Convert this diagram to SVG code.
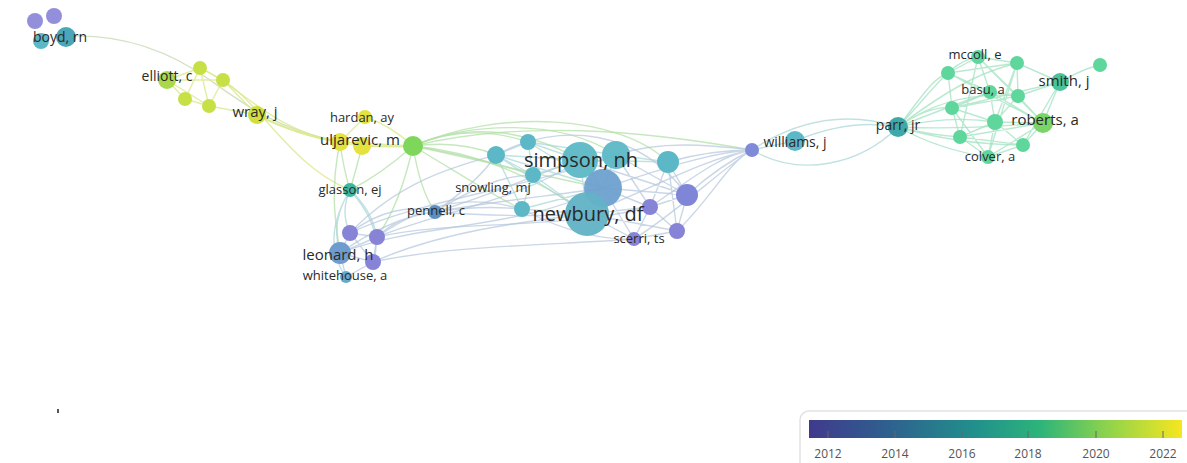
<svg xmlns="http://www.w3.org/2000/svg" width="1187" height="463" viewBox="0 0 1187 463">
<defs>
<style>
.e{fill:none;stroke-width:1.4;stroke-linecap:round}
.ey{stroke:#dbe88e;opacity:.8}
.eg{stroke:#b3e0a8;opacity:.75}
.eb{stroke:#b4c6dc;opacity:.7}
.et{stroke:#a6d4d6;opacity:.7}
.er{stroke:#a3e2c2;opacity:.75}
.n{stroke:none}
.pu{fill:#8783d6}
.bl{fill:#6e9ccf}
.te{fill:#5cb8c6}
.tg{fill:#3fb79e}
.gr{fill:#7ed65a}
.yg{fill:#c6e046}
.ye{fill:#e4e23e}
.rg{fill:#5ed69c}
text{font-family:"Open Sans","Liberation Sans",sans-serif;fill:#2a2a2a;text-anchor:middle}
.s13{font-size:13px}
.s14{font-size:14px}
.s15{font-size:15px}
.s20{font-size:20px}
.tick{font-size:12px;fill:#555}
</style>
<linearGradient id="vir" x1="0" y1="0" x2="1" y2="0">
<stop offset="0" stop-color="#403a8c"/>
<stop offset="0.2" stop-color="#2f5e8e"/>
<stop offset="0.45" stop-color="#21918c"/>
<stop offset="0.62" stop-color="#2db47a"/>
<stop offset="0.8" stop-color="#8ed34c"/>
<stop offset="1" stop-color="#f6e620"/>
</linearGradient>
</defs>
<rect width="1187" height="463" fill="#fff"/>
<g id="connectors">
<path class="e" stroke="#d3e2c4" d="M70 36 C130 34 175 55 210 80 S275 128 340 142"/>
<path class="e ey" d="M200 68 C240 85 270 130 340 142"/>
<path class="e ey" d="M223 80 C262 105 290 165 350 190"/>
<path class="e ey" d="M167 80 L200 68 M167 80 L223 80 M167 80 L185 99 M167 80 L209 106 M200 68 L223 80 M200 68 L185 99 M223 80 L209 106 M185 99 L209 106 M223 80 L257 115 M209 106 L257 115 M200 68 L209 106"/>
<path class="e ey" style="stroke-width:2.2" d="M257 115 Q300 136 340 142"/>
<path class="e ey" d="M257 115 Q330 152 413 146"/>
<path class="e ey" d="M340 142 L413 146 M362 146 L413 146 M365 117 Q390 125 413 146 M365 117 L340 142"/>
<path class="e eg" d="M413 146 C460 125 520 125 580 160"/>
<path class="e eg" d="M413 146 C470 122 560 118 616 155"/>
<path class="e eg" d="M413 146 Q460 140 496 155"/>
<path class="e eg" d="M413 146 Q470 122 528 142"/>
<path class="e eg" d="M413 146 C480 152 540 180 587 214"/>
<path class="e eg" d="M413 146 C470 180 500 200 522 209"/>
<path class="e eg" d="M413 146 Q470 155 533 175"/>
<path class="e eg" d="M413 146 C500 108 620 115 668 162"/>
<path class="e eg" d="M413 146 C520 120 640 130 752 150"/>
<path class="e eg" d="M413 146 C480 160 560 180 603 188"/>
<path class="e eg" d="M413 146 Q380 175 350 190"/>
<path class="e eg" d="M413 146 Q420 190 435 212"/>
<path class="e eg" d="M413 146 Q400 205 377 237"/>
<path class="e eg" d="M340 142 Q343 167 350 190 M362 146 Q356 170 350 190"/>
<path class="e eg" d="M340 142 C330 190 335 220 340 253"/>
<path class="e et" d="M350 190 Q340 212 350 233 M350 190 Q330 222 340 253 M350 190 Q372 210 377 237 M350 190 Q385 230 373 262 M350 190 Q320 240 346 277"/>
<path class="e eb" d="M350 233 L377 237 M350 233 L340 253 M377 237 L373 262 M340 253 L373 262 M340 253 L346 277 M350 233 L373 262 M377 237 L340 253 M373 262 L346 277"/>
<path class="e eb" d="M377 237 Q400 215 435 212 M350 233 C380 210 410 205 435 212 M340 253 C380 225 410 215 435 212"/>
<path class="e eb" d="M377 237 C430 200 470 195 522 209"/>
<path class="e eb" d="M350 233 C400 180 460 165 496 155"/>
<path class="e eb" d="M373 262 C440 232 520 222 587 214"/>
<path class="e eb" d="M377 237 C440 212 520 200 580 160"/>
<path class="e eb" d="M340 253 C420 222 520 230 603 188"/>
<path class="e eb" d="M373 262 C450 245 560 245 634 239"/>
<path class="e eb" d="M350 233 C420 200 520 190 616 155"/>
<path class="e eb" d="M377 237 C450 220 560 230 650 207"/>
<path class="e eb" d="M435 212 Q480 205 522 209 M435 212 Q480 180 496 155 M435 212 Q520 218 587 214 M435 212 C500 192 540 172 580 160 M435 212 C500 200 560 195 603 188 M435 212 C470 190 500 175 533 175"/>
<path class="e et" d="M496 155 L528 142 M496 155 L533 175 M496 155 L522 209 M528 142 L533 175 M533 175 L522 209 M528 142 L580 160 M496 155 L580 160 M533 175 L580 160 M522 209 L587 214 M533 175 L587 214 M528 142 L616 155 M580 160 L616 155 M580 160 L603 188 M616 155 L603 188 M603 188 L587 214 M580 160 L587 214 M616 155 L668 162 M580 160 L668 162 M496 155 L603 188 M522 209 L603 188 M528 142 L603 188 M496 155 L587 214"/>
<path class="e eb" d="M603 188 L687 195 M587 214 L650 207 M603 188 L650 207 M587 214 L634 239 M603 188 L634 239 M650 207 L677 231 M687 195 L677 231 M650 207 L634 239 M634 239 L677 231 M668 162 L687 195 M616 155 L687 195 M668 162 L650 207 M587 214 L677 231 M616 155 L650 207 M580 160 L687 195 M668 162 L677 231 M687 195 L650 207"/>
<path class="e eb" d="M522 209 C570 235 610 240 634 239 M496 155 C560 120 640 130 687 195"/>
<path class="e eb" d="M668 162 Q710 150 752 150 M687 195 Q720 165 752 150 M677 231 C710 200 730 160 752 150 M650 207 C690 180 720 155 752 150 M616 155 C660 140 710 145 752 150 M587 214 C650 190 700 160 752 150 M603 188 C660 170 710 152 752 150 M634 239 C680 210 720 170 752 150"/>
<path class="e et" d="M752 150 L795 141"/>
<path class="e et" d="M752 150 C800 118 850 112 898 127"/>
<path class="e et" d="M752 150 C800 178 860 165 898 127"/>
<path class="e et" d="M795 141 Q850 118 898 127"/>
<path class="e er" d="M898 127 C920 100 930 80 948 73 M898 127 C930 95 950 60 978 57 M898 127 Q930 105 952 108 M898 127 Q940 110 990 92 M898 127 Q950 115 995 122 M898 127 Q930 135 960 137 M898 127 Q940 150 988 157 M898 127 Q960 130 1043 123 M898 127 Q960 145 1023 145 M898 127 Q950 90 1018 96 M898 127 C960 80 990 70 1017 63"/>
<path class="e er" d="M978 57 L1017 63 M948 73 L978 57 M948 73 L990 92 M978 57 L990 92 M1017 63 L1018 96 M1017 63 L1060 82 M1060 82 L1018 96 M990 92 L1018 96 M948 73 L952 108 M952 108 L990 92 M952 108 L995 122 M990 92 L995 122 M1018 96 L1043 123 M995 122 L1043 123 M952 108 L960 137 M960 137 L995 122 M995 122 L988 157 M960 137 L988 157 M988 157 L1023 145 M1023 145 L1043 123 M995 122 L1023 145 M1060 82 L1043 123 M1018 96 L995 122 M978 57 L1018 96 M948 73 L1017 63 M952 108 L1018 96 M960 137 L1023 145 M952 108 L988 157 M990 92 L1043 123 M1060 82 L1023 145 M978 57 L1043 123 M948 73 L1043 123 M960 137 L1043 123 M952 108 L1060 82 M988 157 L1043 123 M1017 63 L995 122 M978 57 L960 137 M1017 63 L988 157"/>
<path class="e er" d="M1060 82 Q1085 68 1100 65"/>
</g>
<g id="node-boyd-cluster">
<circle class="n pu" cx="35" cy="21" r="8" opacity=".9"/>
<circle class="n pu" cx="54" cy="16" r="8" opacity=".9"/>
<circle class="n te" cx="41" cy="41" r="8"/>
<circle class="n" cx="66" cy="37" r="10" fill="#4aa7b8"/>
</g>
<g id="node-elliott-cluster">
<circle class="n" cx="167" cy="80" r="9" fill="#a9d84a"/>
<circle class="n yg" cx="200" cy="68" r="7"/>
<circle class="n yg" cx="223" cy="80" r="7"/>
<circle class="n yg" cx="185" cy="99" r="7"/>
<circle class="n yg" cx="209" cy="106" r="7"/>
<circle class="n" cx="257" cy="115" r="9" fill="#cfe03a"/>
</g>
<g id="node-uljarevic-cluster">
<circle class="n ye" cx="365" cy="117" r="7"/>
<circle class="n ye" cx="340" cy="142" r="9"/>
<circle class="n ye" cx="362" cy="146" r="9"/>
<circle class="n gr" cx="413" cy="146" r="10"/>
</g>
<g id="node-glasson"><circle class="n tg" cx="350" cy="190" r="7"/></g>
<g id="node-pennell"><circle class="n" cx="435" cy="212" r="7" fill="#5a8fc0"/></g>
<g id="node-leonard-cluster">
<circle class="n pu" cx="350" cy="233" r="8"/>
<circle class="n pu" cx="377" cy="237" r="8"/>
<circle class="n bl" cx="340" cy="253" r="11"/>
<circle class="n pu" cx="373" cy="262" r="8"/>
<circle class="n" cx="346" cy="277" r="6" fill="#67a9cc"/>
</g>
<g id="node-central-cluster">
<circle class="n te" cx="496" cy="155" r="9"/>
<circle class="n te" cx="528" cy="142" r="8"/>
<circle class="n te" cx="533" cy="175" r="8"/>
<circle class="n te" cx="522" cy="209" r="8"/>
<circle class="n te" cx="580" cy="160" r="18" opacity=".95"/>
<circle class="n te" cx="616" cy="155" r="14" opacity=".95"/>
<circle class="n" cx="603" cy="188" r="19" fill="#6ea0cf" opacity=".95"/>
<circle class="n" cx="587" cy="214" r="22" fill="#62b2c6" opacity=".95"/>
<circle class="n te" cx="668" cy="162" r="11"/>
<circle class="n" cx="687" cy="195" r="11" fill="#7f86d8"/>
<circle class="n pu" cx="650" cy="207" r="8"/>
<circle class="n pu" cx="677" cy="231" r="8"/>
<circle class="n pu" cx="634" cy="239" r="7"/>
</g>
<g id="node-williams">
<circle class="n" cx="752" cy="150" r="7" fill="#7f8ad8"/>
<circle class="n te" cx="795" cy="141" r="10"/>
</g>
<g id="node-parr"><circle class="n" cx="898" cy="127" r="10" fill="#3fa8a8"/></g>
<g id="node-right-cluster">
<circle class="n rg" cx="978" cy="57" r="7"/>
<circle class="n rg" cx="1017" cy="63" r="7"/>
<circle class="n rg" cx="948" cy="73" r="7"/>
<circle class="n rg" cx="1100" cy="65" r="7"/>
<circle class="n" cx="1060" cy="82" r="9" fill="#49c39a"/>
<circle class="n rg" cx="990" cy="92" r="7"/>
<circle class="n rg" cx="1018" cy="96" r="7"/>
<circle class="n rg" cx="952" cy="108" r="7"/>
<circle class="n rg" cx="995" cy="122" r="8"/>
<circle class="n" cx="1043" cy="123" r="10" fill="#7ad468"/>
<circle class="n rg" cx="960" cy="137" r="7"/>
<circle class="n rg" cx="1023" cy="145" r="7"/>
<circle class="n rg" cx="988" cy="157" r="7"/>
</g>
<g id="labels">
<text class="s14" x="60" y="42">boyd, rn</text>
<text class="s14" x="167" y="81">elliott, c</text>
<text class="s15" x="255" y="117">wray, j</text>
<text class="s13" x="362" y="122">hardan, ay</text>
<text class="s15" x="360" y="145">uljarevic, m</text>
<text class="s13" x="350" y="194">glasson, ej</text>
<text class="s13" x="436" y="215">pennell, c</text>
<text class="s13" x="493" y="192">snowling, mj</text>
<text class="s15" x="338" y="260">leonard, h</text>
<text class="s13" x="345" y="280">whitehouse, a</text>
<text class="s20" x="581" y="167">simpson, nh</text>
<text class="s20" x="588" y="221">newbury, df</text>
<text class="s13" x="639" y="243">scerri, ts</text>
<text class="s14" x="795" y="147">williams, j</text>
<text class="s14" x="898" y="130">parr, jr</text>
<text class="s13" x="975" y="59">mccoll, e</text>
<text class="s15" x="1064" y="86">smith, j</text>
<text class="s13" x="983" y="94">basu, a</text>
<text class="s15" x="1045" y="125">roberts, a</text>
<text class="s13" x="990" y="161">colver, a</text>
</g>
<rect x="57" y="409" width="2" height="4" fill="#555"/>
<g id="legend">
<rect x="800" y="411" width="400" height="60" rx="9" fill="#fff" stroke="#e2e2e2" stroke-width="1.5"/>
<rect x="809" y="420" width="373" height="18" fill="url(#vir)"/>
<path d="M828 431V438M895 431V438M962 431V438M1028 431V438M1096 431V438M1163 431V438" stroke="#666" stroke-width="1"/>
<text class="tick" x="828" y="458">2012</text>
<text class="tick" x="895" y="458">2014</text>
<text class="tick" x="962" y="458">2016</text>
<text class="tick" x="1028" y="458">2018</text>
<text class="tick" x="1096" y="458">2020</text>
<text class="tick" x="1163" y="458">2022</text>
</g>
</svg>
